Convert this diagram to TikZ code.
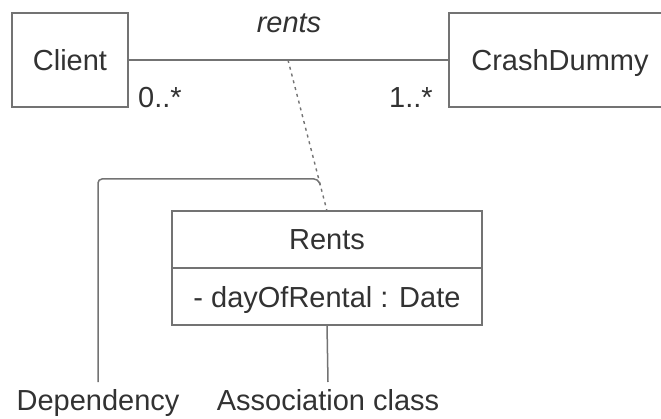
\documentclass[tikz,border=0pt]{standalone}
\usepackage{fontspec}
\setmainfont{Liberation Sans}
\usepackage{tikz}
\usetikzlibrary{positioning}

\definecolor{umlline}{RGB}{115,115,115}
\definecolor{umltext}{RGB}{50,50,50}

\begin{document}
\begin{tikzpicture}[x=1pt, y=-1pt,
    every node/.style={text=umltext, text depth=0pt, font=\fontsize{29}{31}\selectfont},
    classbox/.style={draw=umlline, line width=1.8pt, outer sep=0pt, inner sep=0pt},
    wire/.style={draw=umlline, line width=1.8pt}]
    \useasboundingbox (0,0) rectangle (661,419);
    \clip (0,0) rectangle (661,419);

    % Classes
    \node[classbox, minimum width=116, minimum height=94] (client) at (70,60) {Client};
    \node[classbox, minimum width=222, minimum height=94] (dummy) at (560,60) {CrashDummy};

    % Association with name and multiplicities
    \draw[wire] (client.east) -- (dummy.west);
    \node[font=\itshape\fontsize{29}{31}\selectfont] (assocname) at (289,23) {rents};
    \node (multclient) at (160,97.5) {0..*};
    \node (multdummy) at (411,97.5) {1..*};

    % Association class
    \node[classbox, minimum width=310, minimum height=57] (rents) at (327,239.5) {Rents};
    \node[classbox, minimum width=310, minimum height=57, below=0pt of rents] (rentsattr) {- dayOfRental : Date};
    \coordinate (linkpt) at (288,60);
    \draw[wire, line width=1.4pt, dash pattern=on 3pt off 4pt] (linkpt) -- (rents.north) coordinate[pos=0.83] (depend);

    % Callouts
    \node[anchor=north, inner ysep=7pt] (deplabel) at (98,382) {Dependency};
    \node[anchor=north, inner ysep=7pt] (classlabel) at (328,382) {Association class};
    \coordinate (bend) at (318,179);
    \draw[wire, line width=1.5pt, rounded corners=4pt] (deplabel.north) |- (bend) -- (depend);
    \draw[wire, line width=1.5pt] (rentsattr.south) -- (classlabel.north);

\end{tikzpicture}
\end{document}
